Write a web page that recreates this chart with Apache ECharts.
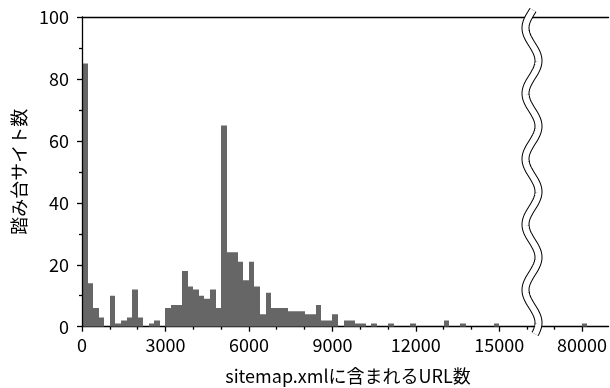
<!DOCTYPE html>
<html>
<head>
<meta charset="utf-8">
<script src="https://cdn.jsdelivr.net/npm/echarts@6/dist/echarts.min.js"></script>
<style>
  html, body { margin: 0; padding: 0; background: #fff; }
  #chart { width: 610px; height: 388px; }
</style>
</head>
<body>
<div id="chart"></div>
<script>
// ヒストグラム (bin幅 200)
const binWidth = 200
// 0 〜 16200 の各binの件数
const counts = [
  85, 14, 6, 3, 0, 10, 1, 2, 3, 12, 3, 0, 1, 2, 0,
  6, 7, 7, 18, 13, 12, 10, 9, 12, 6, 65, 24, 24, 21, 15,
  21, 13, 4, 11, 6, 6, 6, 5, 5, 5, 4, 4, 7, 2, 2,
  4, 0, 2, 2, 1, 1, 0, 1, 0, 0, 1, 0, 0, 0, 1,
  0, 0, 0, 0, 0, 2, 0, 0, 1, 0, 0, 0, 0, 0, 1,
  0, 0, 0, 0, 0, 0
]
// 軸の切れ目の右側
const farStarts = [80000]
const farCounts = [1]

const xLabelValues = [0, 3000, 6000, 9000, 12000, 15000]
const xMinorValues = [1000, 2000, 4000, 5000, 7000, 8000, 10000, 11000, 13000, 14000, 16000]
const farLabelValues = [80000]
const farMinorValues = [79000]

const yTitle = '踏み台サイト数'
const xTitle = 'sitemap.xmlに含まれるURL数'

const FONT = '"Noto Sans CJK JP", "Noto Sans", sans-serif'
const barColor = '#666666'

const nearData = counts.map(function (c, i) {
  return [i * binWidth, (i + 1) * binWidth, c]
})
const farData = farStarts.map(function (s, i) {
  return [s, s + binWidth, farCounts[i]]
})

function renderBar (params, api) {
  if (!api.value(2)) {
    return
  }
  let p0 = api.coord([api.value(0), api.value(2)])
  let p1 = api.coord([api.value(1), 0])
  // 隣のbinとの隙間が出ないように整数pxに揃える
  let x0 = Math.round(p0[0])
  let x1 = Math.round(p1[0])
  return {
    type: 'rect',
    shape: {x: x0, y: p0[1], width: x1 - x0, height: p1[1] - p0[1]},
    style: {fill: barColor}
  }
}

const lineStyle = {color: '#000', width: 1.3}
const labelStyle = {
  fontSize: 18,
  color: '#000',
  fontFamily: FONT,
  formatter: function (v) { return String(v) }
}

function bottomAxis (grid, min, max, labels, minor, isMinor) {
  return {
    type: 'value',
    gridIndex: grid,
    position: 'bottom',
    min: min,
    max: max,
    splitLine: {show: false},
    axisLine: {show: !isMinor, lineStyle: lineStyle},
    axisTick: {
      show: true,
      length: isMinor ? 3 : 5,
      lineStyle: lineStyle,
      customValues: isMinor ? minor : labels
    },
    axisLabel: isMinor ? {show: false} : Object.assign({margin: 9, customValues: labels}, labelStyle)
  }
}

function topAxis (grid, min, max) {
  return {
    type: 'value',
    gridIndex: grid,
    position: 'top',
    min: min,
    max: max,
    splitLine: {show: false},
    axisLine: {show: true, lineStyle: lineStyle},
    axisTick: {show: false},
    axisLabel: {show: false}
  }
}

// 切れ目の位置
const breakX = 532
const nearMax = 16175
const farMin = 78170
const farMax = 80970

let myChart = echarts.init(document.getElementById('chart'), null, {renderer: 'canvas'})

// 波線（軸の省略記号）
let wave = []
for (let y = 10; y <= 334; y++) {
  wave.push([breakX - 6.5 * Math.cos(2 * Math.PI * (y - 28) / 65.5), y])
}

myChart.setOption({
  animation: false,
  grid: [
    {left: 82, top: 17, width: breakX - 82, bottom: 61.3},
    {left: breakX, top: 17, right: 0, bottom: 61.3}
  ],
  xAxis: [
    bottomAxis(0, 0, nearMax, xLabelValues, xMinorValues, false),
    bottomAxis(0, 0, nearMax, xLabelValues, xMinorValues, true),
    topAxis(0, 0, nearMax),
    bottomAxis(1, farMin, farMax, farLabelValues, farMinorValues, false),
    bottomAxis(1, farMin, farMax, farLabelValues, farMinorValues, true),
    topAxis(1, farMin, farMax)
  ],
  yAxis: [
    {
      type: 'value',
      gridIndex: 0,
      min: 0,
      max: 100,
      interval: 20,
      z: 5,
      name: yTitle,
      nameLocation: 'middle',
      nameGap: 53,
      nameTextStyle: {fontSize: 18, color: '#000', fontFamily: FONT},
      splitLine: {show: false},
      axisLine: {show: true, lineStyle: lineStyle},
      axisTick: {show: true, length: 5, lineStyle: lineStyle},
      minorTick: {show: true, splitNumber: 2, length: 3, lineStyle: lineStyle},
      minorSplitLine: {show: false},
      axisLabel: Object.assign({margin: 13}, labelStyle)
    },
    {
      type: 'value',
      gridIndex: 1,
      min: 0,
      max: 100,
      show: false
    }
  ],
  series: [
    {
      type: 'custom',
      xAxisIndex: 0,
      yAxisIndex: 0,
      renderItem: renderBar,
      encode: {x: [0, 1], y: 2},
      data: nearData,
      clip: true
    },
    {
      type: 'custom',
      xAxisIndex: 3,
      yAxisIndex: 1,
      renderItem: renderBar,
      encode: {x: [0, 1], y: 2},
      data: farData,
      clip: true
    }
  ],
  graphic: [
    {
      type: 'polyline',
      z: 100,
      shape: {points: wave},
      style: {stroke: '#000', lineWidth: 8, fill: null}
    },
    {
      type: 'polyline',
      z: 101,
      shape: {points: wave},
      style: {stroke: '#fff', lineWidth: 6, fill: null}
    },
    {
      type: 'text',
      z: 100,
      x: 348,
      y: 376,
      style: {
        text: xTitle,
        font: '18px ' + FONT,
        fill: '#000',
        align: 'center',
        verticalAlign: 'middle'
      }
    }
  ]
})
window.onresize = myChart.resize
</script>
</body>
</html>
